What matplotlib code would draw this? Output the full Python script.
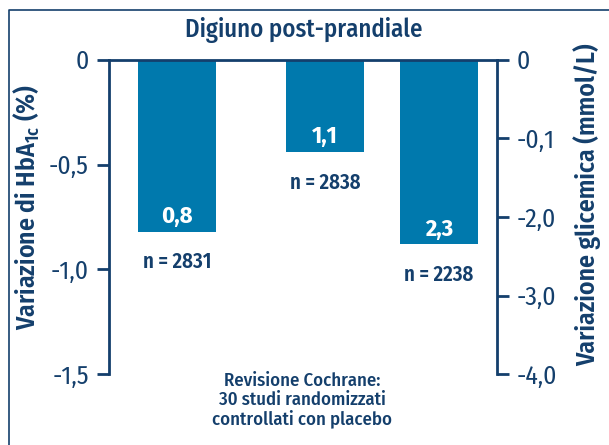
import matplotlib
matplotlib.use("Agg")
import matplotlib.pyplot as plt
from matplotlib.lines import Line2D

# data
bar_values = [-0.82, -0.44, -0.88]          # HbA1c change (%)
bar_labels = ["0,8", "1,1", "2,3"]
n_labels = ["n = 2831", "n = 2838", "n = 2238"]
left_ticks = [0, -0.5, -1.0, -1.5]
left_ticklabels = ["0", "-0,5", "-1,0", "-1,5"]
right_ticks = [0, -1, -2, -3, -4]
right_ticklabels = ["0", "-0,1", "-2,0", "-3,0", "-4,0"]

NAVY = "#143f6c"
BLUE = "#0079ad"
FONT = ["Fira Sans Condensed", "DejaVu Sans"]

plt.rcParams["font.family"] = FONT
plt.rcParams["mathtext.fontset"] = "custom"
plt.rcParams["mathtext.rm"] = "Fira Sans Condensed:semibold"

fig = plt.figure(figsize=(6.09, 4.45), dpi=100)
ax = fig.add_axes([0.179, 0.159, 0.637, 0.707])
ax2 = ax.twinx()

xpos = [0.87, 2.77, 4.23]
ax.bar(xpos, bar_values, width=1.0, color=BLUE, zorder=1)
ax.set_xlim(0, 4.974)
ax.set_ylim(-1.5, 0)
ax2.set_ylim(-4, 0)

for x, v, lab, n in zip(xpos, bar_values, bar_labels, n_labels):
    ax.annotate(lab, (x, v), xytext=(0, 11), textcoords="offset points",
                ha="center", va="center", color="white", fontsize=17.5,
                fontweight="bold")
    ax.annotate(n, (x, v), xytext=(0, -22), textcoords="offset points",
                ha="center", va="center", color=NAVY, fontsize=15,
                fontweight="semibold")

# spines: left + top on main axis, right on twin
for a in (ax, ax2):
    for s in a.spines.values():
        s.set_visible(False)
        s.set_color(NAVY)
        s.set_linewidth(2)
ax.spines["left"].set_visible(True)
ax.spines["top"].set_visible(True)
ax2.spines["right"].set_visible(True)

ax.set_xticks([])
ax.set_yticks(left_ticks, left_ticklabels)
ax.tick_params(axis="y", length=8.5, width=2, color=NAVY, labelcolor=NAVY,
               labelsize=18.5, pad=6)
ax2.set_yticks(right_ticks, right_ticklabels)
ax2.tick_params(axis="y", length=8.5, width=2, color=NAVY, labelcolor=NAVY,
                labelsize=18.5, pad=6)

fig.text(0.499, 0.933, "Digiuno post-prandiale", ha="center", va="center",
         color=NAVY, fontsize=17.8, fontweight="medium")
fig.text(0.044, 0.535, "Variazione di HbA$\\mathrm{_{1c}}$ (%)", rotation=90,
         ha="center", va="center", color=NAVY, fontsize=18.5, fontweight="semibold")
fig.text(0.964, 0.539, "Variazione glicemica (mmol/L)", rotation=90,
         ha="center", va="center", color=NAVY, fontsize=18.5, fontweight="semibold")
fig.text(0.496, 0.101, "Revisione Cochrane:\n30 studi randomizzati\ncontrollati con placebo",
         ha="center", va="center", color=NAVY, fontsize=13.5, fontweight="medium",
         linespacing=1.05)

# frame lines (top and left edge of the boxed panel)
fig.add_artist(Line2D([0.015, 0.015, 1.0], [0.0, 0.977, 0.977],
                      transform=fig.transFigure, color=NAVY, linewidth=1.2))

fig.savefig("out.png", dpi=100)
